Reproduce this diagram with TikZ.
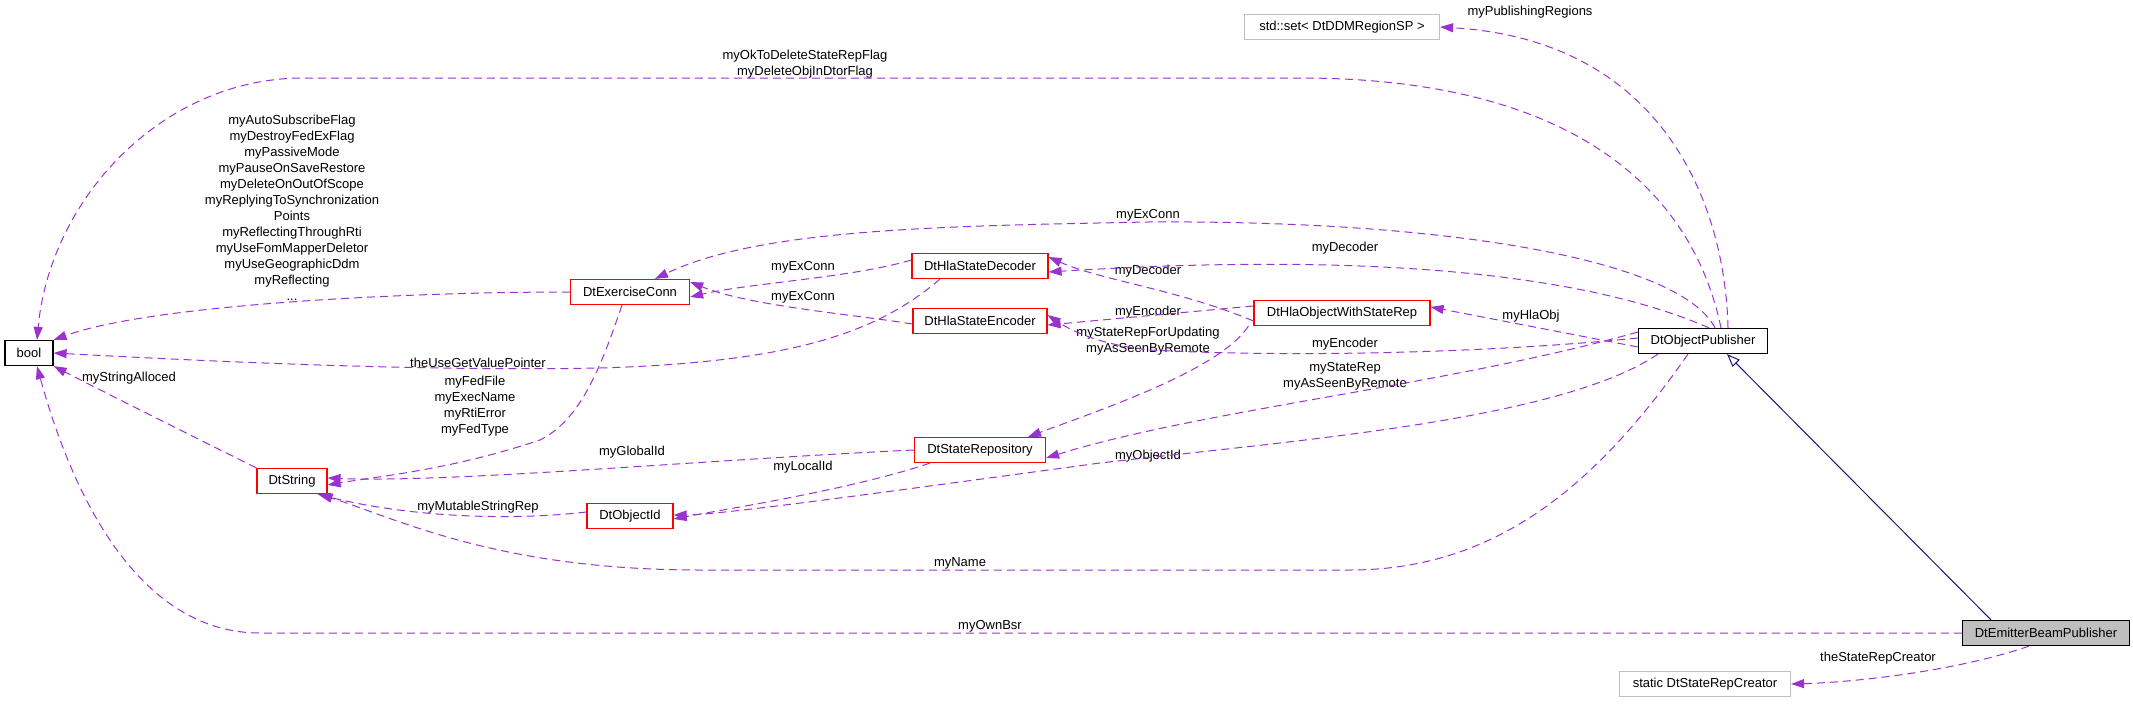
\documentclass[tikz,border=0pt]{standalone}
\usepackage{fontspec}
\setmainfont{Liberation Sans}
\usetikzlibrary{arrows.meta,calc}
\definecolor{dep}{HTML}{9A32CD}
\definecolor{inh}{HTML}{191970}
\begin{document}
\begin{tikzpicture}[x=1pt,y=-1pt,
  every node/.style={font=\fontsize{13}{16}\selectfont, inner sep=0pt},
  box/.style={draw=black, line width=1.2pt, minimum height=25pt, align=center},
  rbox/.style={draw=red, line width=1.2pt, minimum height=25pt},
  gbox/.style={draw=black!25, line width=1.2pt, minimum height=25pt},
  lbl/.style={align=center},
  dep/.style={draw=dep, line width=1pt, dash pattern=on 8pt off 5pt, -{Triangle[length=13pt,width=9pt,fill=dep]}},
  inhe/.style={draw=inh, line width=1pt, -{Triangle[open,length=13pt,width=10pt,fill=white]}}]
\useasboundingbox (0,0) rectangle (2133,704);
% nodes
\node[box, minimum width=48pt] (bool) at (29,353) {bool};
\node[rbox, minimum width=119pt] (ec) at (630,292) {DtExerciseConn};
\node[rbox, minimum width=70pt] (str) at (292,481) {DtString};
\node[rbox, minimum width=86pt] (oid) at (630,516) {DtObjectId};
\node[rbox, minimum width=136pt] (dec) at (980,266) {DtHlaStateDecoder};
\node[rbox, minimum width=134pt] (enc) at (980,321) {DtHlaStateEncoder};
\node[rbox, minimum width=131pt] (rep) at (980,450) {DtStateRepository};
\node[rbox, minimum width=176pt] (hla) at (1342,313) {DtHlaObjectWithStateRep};
\node[box, minimum width=129pt] (pub) at (1703,341) {DtObjectPublisher};
\node[gbox, minimum width=195pt] (set) at (1342,27) {std::set{\textless} DtDDMRegionSP {\textgreater}};
\node[box, fill=black!25, minimum width=167pt] (emit) at (2046,633) {DtEmitterBeamPublisher};
\node[gbox, minimum width=171pt] (src) at (1705,684) {static DtStateRepCreator};
% labels
\node[lbl] (l1) at (1530,12) {myPublishingRegions};
\node[lbl] (l2) at (805,64) {myOkToDeleteStateRepFlag\\myDeleteObjInDtorFlag};
\node[lbl] (l3) at (292,208) {myAutoSubscribeFlag\\myDestroyFedExFlag\\myPassiveMode\\myPauseOnSaveRestore\\myDeleteOnOutOfScope\\myReplyingToSynchronization\\Points\\myReflectingThroughRti\\myUseFomMapperDeletor\\myUseGeographicDdm\\myReflecting\\...};
\node[lbl] (l4) at (478,363) {theUseGetValuePointer};
\node[lbl] (l5) at (129,378) {myStringAlloced};
\node[lbl] (l6) at (475,406) {myFedFile\\myExecName\\myRtiError\\myFedType};
\node[lbl] (l7) at (632,452) {myGlobalId};
\node[lbl] (l8) at (478,507) {myMutableStringRep};
\node[lbl] (l9) at (803,467) {myLocalId};
\node[lbl] (l10) at (803,267) {myExConn};
\node[lbl] (l11) at (803,297) {myExConn};
\node[lbl] (l12) at (1148,215) {myExConn};
\node[lbl] (l13) at (1148,271) {myDecoder};
\node[lbl] (l14) at (1345,248) {myDecoder};
\node[lbl] (l15) at (1148,312) {myEncoder};
\node[lbl] (l16) at (1148,341) {myStateRepForUpdating\\myAsSeenByRemote};
\node[lbl] (l17) at (1531,316) {myHlaObj};
\node[lbl] (l18) at (1345,344) {myEncoder};
\node[lbl] (l19) at (1345,376) {myStateRep\\myAsSeenByRemote};
\node[lbl] (l20) at (1148,456) {myObjectId};
\node[lbl] (l21) at (960,563) {myName};
\node[lbl] (l22) at (990,626) {myOwnBsr};
\node[lbl] (l23) at (1878,658) {theStateRepCreator};
% connectors
\draw[dep] ([xshift=25pt]pub.north) .. controls (1725,200) and (1660,40) .. (set.east);
\draw[dep] ([xshift=18pt]pub.north) .. controls (1690,180) and (1560,78) .. (1300,78) -- (300,78) .. controls (160,80) and (50,200) .. ([xshift=8pt]bool.north);
\draw[dep] (ec.west) .. controls (400,292) and (150,305) .. (bool.north east);
\draw[dep] ([xshift=-40pt]dec.south) .. controls (880,330) and (800,362) .. (600,368) .. controls (400,372) and (150,358) .. (bool.east);
\draw[dep] (str.north west) .. controls (180,430) and (100,390) .. (bool.south east);
\draw[dep] (emit.west) -- (260,633) .. controls (120,633) and (60,450) .. ([xshift=8pt]bool.south);
\draw[dep] ([xshift=12pt]pub.north) .. controls (1680,260) and (1450,220) .. (1148,222) .. controls (950,226) and (760,228) .. ([xshift=25pt]ec.north);
\draw[dep] ([yshift=6pt]dec.west) .. controls (850,278) and (750,283) .. ([yshift=-5pt]ec.east);
\draw[dep] ([yshift=-3pt]enc.west) .. controls (850,314) and (750,306) .. ([yshift=10pt]ec.east);
\draw[dep] ([xshift=6pt]pub.north) .. controls (1600,280) and (1400,250) .. ([yshift=-6pt]dec.east);
\draw[dep] ([yshift=-8pt]hla.west) .. controls (1180,290) and (1100,280) .. ([yshift=9pt]dec.east);
\draw[dep] ([yshift=7pt]hla.west) -- ([yshift=-4pt]enc.east);
\draw[dep] ([yshift=-6pt]pub.west) -- ([yshift=6pt]hla.east);
\draw[dep] ([yshift=3pt]pub.west) .. controls (1500,352) and (1300,358) .. (1150,350) .. controls (1100,345) and (1070,330) .. ([yshift=6pt]enc.east);
\draw[dep] ([yshift=9pt]pub.west) .. controls (1450,385) and (1200,410) .. ([yshift=-8pt]rep.east);
\draw[dep] ([xshift=-5pt]hla.south west) .. controls (1220,370) and (1100,410) .. ([xshift=48pt]rep.north);
\draw[dep] ([xshift=-45pt]pub.south) .. controls (1560,420) and (1300,440) .. (1100,463) .. controls (900,490) and (720,515) .. ([yshift=1pt]oid.east);
\draw[dep] ([xshift=-15pt]pub.south) .. controls (1600,480) and (1500,570) .. (1350,570) -- (700,570) .. controls (500,570) and (400,520) .. ([xshift=-8pt]str.south east);
\draw[dep] ([xshift=-8pt]ec.south) .. controls (600,370) and (580,420) .. (540,440) .. controls (450,470) and (380,476) .. ([yshift=-4pt]str.east);
\draw[dep] (rep.west) .. controls (700,460) and (450,483) .. ([yshift=3pt]str.east);
\draw[dep] ([xshift=-50pt]rep.south) .. controls (850,490) and (720,510) .. ([yshift=-3pt]oid.east);
\draw[dep] ([yshift=4pt]oid.west) .. controls (500,522) and (400,515) .. ([xshift=-10pt]str.south east);
\draw[dep] ([xshift=-17pt]emit.south) .. controls (1960,670) and (1860,682) .. (src.east);
\draw[inhe] ([xshift=-55pt]emit.north) -- ([xshift=24pt]pub.south);
\end{tikzpicture}
\end{document}
